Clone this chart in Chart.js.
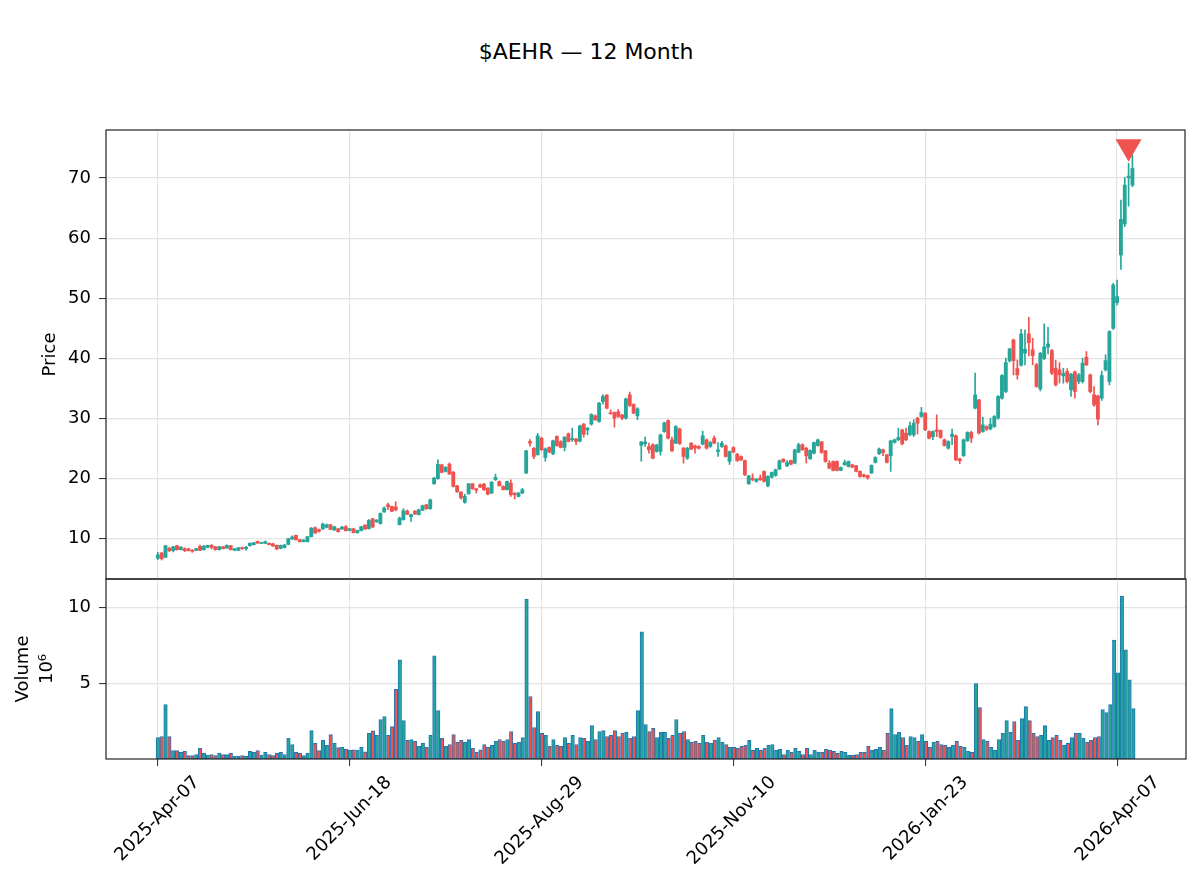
<!DOCTYPE html>
<html lang="en">
<head>
<meta charset="UTF-8">
<title>$AEHR — 12 Month</title>
<script src="https://cdn.jsdelivr.net/npm/chart.js"></script>
<style>
    body {
        margin: 0;
        width: 1200px;
        height: 888px;
        overflow: hidden;
        position: relative;
        background: #fff;
        font-family: 'DejaVu Sans', sans-serif;
    }

    canvas {
        position: absolute;
        left: 0;
        top: 0;
    }

    #title {
        position: absolute;
        left: 0;
        top: 39px;
        width: 1172px;
        text-align: center;
        font-size: 22px;
        line-height: 26px;
        color: #000;
    }
</style>
</head>
<body>
<div id="title">$AEHR — 12 Month</div>
<canvas id="price" width="1200" height="888"></canvas>
<canvas id="volume" width="1200" height="888"></canvas>

<script>
    // daily candles, 2025-Apr-07 .. 2026-Apr-13 (trading days)
    const opens = [
        6.75, 7.62, 6.90, 8.40, 8.01, 8.84, 8.18, 8.34, 8.34, 8.06,
        8.06, 8.73, 8.18, 8.56, 8.90, 8.67, 8.18, 8.67, 8.45, 8.84,
        8.06, 8.06, 8.51, 8.34, 8.84, 9.01, 9.56, 9.23, 9.23, 9.23,
        9.17, 8.90, 8.40, 8.51, 9.06, 9.95, 10.56, 9.84, 9.51, 9.51,
        10.34, 11.83, 11.50, 11.61, 11.89, 12.33, 11.44, 11.67, 11.61, 12.00,
        11.39, 11.67, 11.00, 11.33, 12.28, 11.67, 13.33, 12.83, 12.50, 14.44,
        15.65, 15.38, 15.30, 12.33, 13.16, 14.60, 13.66, 14.60, 14.00, 14.71,
        15.65, 14.99, 19.15, 19.98, 22.30, 21.20, 22.41, 21.08, 18.81, 17.76,
        16.04, 17.48, 19.14, 18.31, 18.98, 19.09, 18.42, 17.59, 19.81, 19.53,
        18.70, 18.15, 19.26, 17.60, 17.04, 17.60, 20.92, 26.18, 25.07, 23.97,
        26.73, 23.52, 25.18, 24.13, 27.01, 26.18, 25.18, 27.45, 26.46, 26.57,
        26.24, 29.06, 28.12, 29.06, 30.45, 29.50, 32.83, 33.88, 30.95, 31.00,
        31.11, 30.61, 30.06, 33.94, 32.33, 30.45, 25.55, 25.80, 25.34, 25.62,
        24.51, 24.51, 27.84, 29.67, 26.45, 25.90, 28.28, 25.07, 23.40, 25.90,
        25.45, 25.34, 25.73, 26.45, 25.34, 26.73, 24.51, 25.34, 25.45, 22.85,
        25.18, 24.07, 23.68, 23.02, 19.14, 20.08, 19.53, 20.08, 21.19, 18.81,
        20.24, 20.52, 21.58, 23.24, 22.13, 23.02, 22.57, 24.40, 25.62, 25.07,
        23.30, 24.24, 25.51, 26.13, 24.63, 22.58, 22.86, 22.86, 21.36, 22.30,
        22.03, 22.30, 22.14, 21.20, 20.64, 20.53, 20.92, 22.69, 24.13, 24.80,
        23.96, 23.80, 26.01, 26.46, 28.12, 27.57, 27.29, 27.29, 30.06, 30.34,
        30.89, 27.84, 26.99, 28.12, 28.01, 26.46, 25.07, 27.01, 27.12, 23.30,
        23.80, 26.29, 27.68, 31.72, 33.10, 27.84, 28.67, 28.28, 28.67, 30.06,
        33.38, 34.49, 39.59, 43.08, 38.31, 38.87, 40.86, 44.07, 41.42, 38.92,
        34.93, 39.97, 41.86, 41.30, 38.37, 38.09, 37.10, 37.81, 34.77, 37.76,
        36.15, 36.15, 40.20, 37.26, 33.93, 33.77, 33.38, 38.09, 36.15, 45.01,
        49.28, 57.20, 62.36, 70.06, 68.84
    ];
    const highs = [
        7.73, 7.73, 8.90, 8.56, 8.75, 8.90, 8.68, 8.50, 8.40, 8.23,
        8.40, 8.95, 8.85, 8.95, 9.06, 8.75, 8.73, 8.73, 9.00, 8.90,
        8.40, 8.56, 8.62, 8.73, 9.30, 9.40, 9.62, 9.40, 9.62, 9.30,
        9.23, 8.95, 8.95, 9.06, 10.06, 10.50, 10.62, 9.90, 9.84, 10.40,
        11.85, 12.00, 11.60, 12.61, 12.45, 12.40, 12.10, 11.75, 12.05, 12.20,
        11.75, 11.72, 11.45, 12.05, 12.33, 13.20, 13.40, 13.20, 14.30, 15.30,
        15.93, 15.45, 16.15, 13.60, 15.00, 14.80, 14.10, 14.70, 14.90, 15.60,
        15.70, 16.60, 20.20, 23.13, 22.40, 22.00, 22.60, 21.20, 18.90, 17.85,
        17.40, 19.20, 19.20, 18.40, 19.15, 19.20, 18.50, 19.50, 20.75, 19.60,
        18.80, 19.60, 19.80, 17.65, 17.70, 18.40, 24.70, 26.50, 25.15, 27.50,
        26.90, 25.10, 25.30, 26.40, 27.10, 26.30, 27.00, 27.60, 28.40, 26.70,
        28.90, 29.20, 28.50, 30.80, 30.60, 32.70, 33.94, 34.00, 31.44, 31.10,
        31.50, 30.70, 33.40, 34.40, 32.45, 31.80, 26.20, 26.90, 25.90, 25.80,
        25.70, 27.40, 29.40, 29.80, 26.90, 28.80, 28.40, 25.20, 25.20, 26.00,
        25.60, 25.50, 27.90, 26.60, 26.20, 27.10, 26.00, 26.20, 25.60, 24.60,
        25.30, 24.20, 23.80, 23.10, 20.55, 20.80, 20.00, 20.60, 21.30, 20.50,
        21.10, 21.60, 23.10, 23.30, 23.00, 23.10, 24.90, 25.90, 25.80, 25.20,
        24.80, 26.10, 26.60, 26.20, 24.70, 23.00, 22.95, 22.95, 21.95, 23.10,
        22.95, 22.40, 22.20, 21.30, 20.75, 20.60, 22.30, 23.65, 25.10, 24.90,
        24.05, 26.40, 26.60, 28.40, 28.20, 28.40, 29.40, 29.80, 30.20, 31.85,
        31.00, 27.95, 27.95, 30.61, 28.10, 26.60, 26.30, 28.23, 27.30, 23.40,
        26.60, 27.80, 27.90, 37.54, 33.20, 30.20, 28.80, 30.06, 30.50, 33.80,
        37.30, 40.03, 41.70, 43.20, 39.75, 44.85, 44.74, 46.85, 43.35, 39.20,
        41.00, 45.74, 45.18, 41.50, 39.70, 39.30, 38.37, 38.30, 37.50, 37.90,
        37.50, 40.03, 41.14, 37.40, 35.32, 33.90, 37.90, 40.60, 44.60, 52.50,
        53.05, 66.35, 70.11, 72.44, 73.83
    ];
    const lows = [
        6.51, 6.46, 6.85, 7.84, 7.79, 8.10, 8.12, 7.85, 7.95, 7.73,
        8.00, 8.00, 8.10, 8.50, 8.34, 8.10, 8.10, 8.30, 8.40, 8.12,
        8.00, 8.00, 8.23, 8.06, 8.78, 8.95, 9.20, 9.17, 9.17, 8.95,
        8.73, 8.20, 8.30, 8.45, 9.00, 9.90, 9.78, 9.45, 9.45, 9.45,
        10.28, 10.90, 11.10, 11.55, 11.80, 11.50, 11.38, 11.10, 11.55, 11.28,
        11.30, 10.95, 10.90, 11.28, 11.55, 11.60, 11.85, 12.70, 12.45, 14.40,
        14.82, 14.50, 14.65, 12.30, 13.10, 14.00, 12.90, 14.05, 13.95, 14.65,
        14.90, 14.90, 19.05, 19.90, 20.95, 21.10, 20.70, 18.60, 17.70, 16.60,
        15.90, 17.40, 18.20, 17.60, 18.50, 18.05, 17.30, 17.50, 19.70, 18.75,
        18.10, 18.10, 17.04, 16.60, 16.95, 17.50, 20.85, 25.40, 23.30, 23.90,
        24.70, 22.90, 24.30, 24.00, 25.40, 25.10, 24.60, 26.10, 26.18, 25.63,
        26.10, 26.90, 27.29, 28.90, 29.70, 29.40, 32.44, 31.60, 30.70, 28.56,
        30.20, 29.80, 29.90, 32.00, 30.80, 29.80, 22.90, 25.35, 24.24, 23.30,
        24.40, 23.90, 27.70, 26.60, 24.50, 25.80, 25.70, 22.57, 23.20, 24.80,
        24.24, 24.90, 25.60, 24.90, 25.20, 25.80, 23.68, 25.20, 23.60, 22.35,
        24.30, 22.90, 23.00, 20.50, 19.05, 19.64, 19.40, 19.70, 19.40, 18.60,
        20.10, 20.40, 21.50, 22.70, 22.00, 22.30, 22.50, 24.30, 24.70, 22.60,
        23.20, 24.10, 25.40, 24.20, 22.70, 21.60, 21.30, 21.30, 21.30, 22.20,
        21.90, 21.80, 21.10, 20.25, 20.25, 19.90, 20.85, 22.60, 24.00, 23.80,
        22.60, 21.20, 25.90, 26.30, 25.60, 26.30, 27.10, 27.00, 27.40, 30.20,
        28.00, 26.60, 26.50, 27.00, 26.70, 25.40, 24.90, 25.63, 23.00, 22.50,
        23.70, 26.20, 26.00, 31.60, 27.40, 27.70, 28.00, 28.10, 28.50, 29.90,
        33.20, 34.30, 39.40, 37.26, 36.54, 38.70, 38.92, 40.42, 38.92, 35.20,
        34.60, 39.80, 40.75, 37.30, 35.40, 35.90, 35.87, 35.90, 33.66, 33.38,
        35.80, 35.90, 38.80, 34.30, 32.00, 28.95, 33.00, 37.90, 35.60, 44.80,
        48.90, 54.82, 61.91, 65.35, 68.56
    ];
    const closes = [
        7.30, 6.68, 8.84, 8.01, 8.67, 8.18, 8.62, 8.01, 8.01, 7.90,
        8.34, 8.06, 8.79, 8.90, 8.56, 8.18, 8.67, 8.34, 8.90, 8.18,
        8.34, 8.51, 8.34, 8.56, 9.23, 9.34, 9.28, 9.34, 9.51, 9.01,
        8.79, 8.28, 8.90, 8.95, 10.00, 10.28, 9.84, 9.51, 9.78, 10.34,
        11.78, 10.95, 11.22, 12.44, 12.33, 11.55, 12.00, 11.17, 11.94, 11.33,
        11.67, 11.00, 11.39, 12.00, 11.61, 13.05, 11.94, 13.10, 14.20, 15.10,
        15.32, 14.55, 14.80, 13.44, 14.66, 14.05, 14.00, 14.10, 14.83, 15.49,
        14.99, 16.49, 20.09, 22.36, 21.03, 21.86, 20.75, 18.70, 17.82, 16.82,
        17.04, 19.14, 18.31, 18.09, 18.59, 18.15, 17.43, 19.42, 20.20, 18.81,
        18.15, 19.53, 17.32, 17.32, 17.60, 18.15, 24.63, 25.90, 23.69, 27.12,
        24.80, 24.96, 24.41, 26.29, 25.46, 25.18, 26.90, 26.18, 26.68, 26.18,
        28.78, 27.40, 28.40, 30.67, 29.78, 32.55, 33.66, 31.72, 30.80, 30.06,
        30.34, 30.06, 33.27, 32.16, 30.89, 31.61, 26.10, 26.10, 24.79, 23.40,
        25.62, 27.28, 29.28, 26.73, 24.62, 28.67, 25.79, 23.68, 25.07, 24.90,
        25.07, 25.07, 27.12, 25.07, 26.01, 25.90, 24.79, 25.90, 23.68, 24.51,
        24.40, 22.96, 23.13, 20.63, 20.47, 19.80, 19.91, 19.80, 19.53, 20.36,
        21.03, 21.47, 22.96, 22.80, 22.68, 22.41, 24.79, 25.62, 24.79, 23.79,
        24.68, 26.01, 26.45, 24.35, 22.86, 21.75, 21.36, 21.36, 21.86, 22.69,
        22.86, 21.92, 21.20, 20.36, 20.36, 20.14, 22.19, 23.52, 24.91, 24.35,
        22.69, 26.29, 26.46, 26.85, 25.79, 26.46, 28.78, 29.23, 29.23, 31.00,
        28.12, 26.73, 27.84, 27.84, 26.85, 25.52, 26.18, 27.40, 23.13, 22.97,
        26.46, 27.68, 26.73, 33.93, 27.60, 28.95, 28.23, 29.06, 30.33, 33.66,
        37.15, 39.31, 41.58, 39.64, 37.26, 44.07, 41.52, 42.63, 40.47, 35.32,
        40.86, 41.91, 42.41, 37.54, 35.60, 37.26, 37.50, 36.15, 37.37, 34.49,
        37.26, 39.20, 38.92, 34.49, 32.27, 29.89, 37.15, 39.64, 44.46, 52.22,
        50.28, 63.13, 68.84, 70.33, 71.61
    ];
    // volume in millions of shares
    const volumes = [
        1.42, 1.49, 3.60, 1.49, 0.55, 0.55, 0.44, 0.50, 0.22, 0.22,
        0.30, 0.70, 0.39, 0.26, 0.30, 0.22, 0.37, 0.30, 0.30, 0.37,
        0.17, 0.17, 0.22, 0.17, 0.50, 0.44, 0.55, 0.26, 0.44, 0.30,
        0.22, 0.37, 0.44, 0.30, 1.36, 0.96, 0.44, 0.37, 0.22, 0.37,
        1.88, 1.03, 0.55, 1.23, 0.90, 1.62, 1.03, 0.75, 0.77, 0.66,
        0.57, 0.61, 0.57, 0.77, 0.48, 1.69, 1.86, 1.56, 2.61, 2.80,
        1.56, 2.15, 4.60, 6.56, 2.54, 1.23, 1.29, 1.16, 0.83, 1.03,
        0.77, 1.56, 6.82, 3.20, 1.36, 0.83, 0.96, 1.62, 1.10, 1.23,
        1.10, 1.29, 0.70, 0.44, 0.61, 0.96, 0.77, 0.90, 1.16, 1.29,
        1.16, 1.29, 1.82, 1.03, 1.10, 1.42, 10.57, 4.12, 2.08, 3.13,
        1.69, 1.56, 0.83, 1.29, 0.90, 0.83, 1.42, 1.03, 1.56, 0.96,
        1.42, 1.36, 1.16, 2.21, 1.29, 1.82, 1.88, 1.49, 1.56, 1.88,
        1.49, 1.69, 1.76, 1.36, 1.49, 3.20, 8.40, 2.28, 1.82, 2.02,
        1.42, 1.76, 1.76, 1.36, 1.56, 2.61, 1.69, 1.82, 1.29, 1.10,
        1.16, 1.03, 1.56, 1.10, 1.03, 1.23, 1.42, 1.10, 0.96, 0.77,
        0.77, 0.70, 0.83, 0.90, 1.23, 0.57, 0.70, 0.57, 0.70, 0.90,
        0.96, 0.57, 0.64, 0.30, 0.57, 0.44, 0.70, 0.50, 0.30, 0.70,
        0.30, 0.57, 0.44, 0.44, 0.64, 0.57, 0.50, 0.37, 0.50, 0.44,
        0.24, 0.24, 0.30, 0.44, 0.44, 0.83, 0.57, 0.64, 0.77, 0.57,
        1.69, 3.33, 1.62, 1.76, 1.42, 0.90, 1.49, 1.42, 1.16, 1.62,
        1.16, 0.77, 1.10, 1.16, 0.96, 0.90, 0.77, 0.90, 1.16, 0.83,
        0.77, 0.50, 0.44, 4.98, 3.40, 1.29, 1.16, 0.77, 0.57, 1.29,
        1.69, 2.54, 1.76, 2.48, 1.23, 2.67, 3.46, 2.54, 1.69, 1.49,
        1.56, 2.21, 1.23, 1.42, 1.56, 1.23, 0.90, 1.03, 1.42, 1.69,
        1.69, 1.36, 1.10, 1.23, 1.42, 1.49, 3.27, 3.07, 3.60, 7.87,
        5.70, 10.77, 7.21, 5.24, 3.33
    ];

    const tickIdx = [0, 50, 100, 150, 200, 250];
    const tickLabels = ['2025-Apr-07', '2025-Jun-18', '2025-Aug-29', '2025-Nov-10', '2026-Jan-23', '2026-Apr-07'];
    const priceTicks = [10, 20, 30, 40, 50, 60, 70];
    const volumeTicks = [5, 10];
    const signalIdx = [253];
    const signalPrice = [75.2];

    const UP = '#26a69a';
    const DOWN = '#ef5350';
    const GRID = '#e4e4e4';
    const FRAME = '#222';
    const X_MIN = -13.5;
    const X_MAX = 267.7;
    const TICK_FONT = { family: 'DejaVu Sans', size: 18 };
    const LABEL_FONT = { family: 'DejaVu Sans', size: 18, lineHeight: 1.3 };

    const candleColor = ctx => closes[ctx.dataIndex] >= opens[ctx.dataIndex] ? UP : DOWN;
    const setTicks = list => scale => { scale.ticks = list.map(v => ({ value: v })); };

    // box round each panel, like the matplotlib frame
    const framePlugin = {
        id: 'frame',
        afterDraw(chart) {
            const { ctx, chartArea: a } = chart;
            ctx.save();
            ctx.strokeStyle = FRAME;
            ctx.lineWidth = 1.2;
            ctx.strokeRect(a.left, a.top, a.right - a.left, a.bottom - a.top);
            ctx.restore();
        }
    };

    Chart.defaults.font.family = 'DejaVu Sans';

    new Chart(document.getElementById('price'), {
        type: 'bar',
        data: {
            datasets: [
                {
                    type: 'line',
                    data: signalIdx.map((x, k) => ({ x: x, y: signalPrice[k] })),
                    showLine: false,
                    pointStyle: 'triangle',
                    pointRotation: 180,
                    pointRadius: 15,
                    pointBackgroundColor: DOWN,
                    pointBorderWidth: 0,
                    order: 0
                },
                {
                    data: opens.map((o, i) => ({ x: i, y: [o, closes[i]] })),
                    backgroundColor: candleColor,
                    barThickness: 3.2,
                    minBarLength: 1,
                    grouped: false,
                    order: 1
                },
                {
                    data: lows.map((l, i) => ({ x: i, y: [l, highs[i]] })),
                    backgroundColor: candleColor,
                    barThickness: 1,
                    grouped: false,
                    order: 2
                }
            ]
        },
        options: {
            responsive: false,
            animation: false,
            devicePixelRatio: 1,
            layout: { padding: { left: 0, right: 14, top: 130, bottom: 309 } },
            plugins: { legend: { display: false }, tooltip: { enabled: false } },
            scales: {
                x: {
                    type: 'linear',
                    min: X_MIN,
                    max: X_MAX,
                    offset: false,
                    afterBuildTicks: setTicks(tickIdx),
                    afterFit: s => { s.height = 0; },
                    ticks: { display: false },
                    border: { display: false },
                    grid: { color: GRID, lineWidth: 1.2, drawTicks: false, offset: false }
                },
                y: {
                    min: 3.3,
                    max: 78,
                    afterBuildTicks: setTicks(priceTicks),
                    afterFit: s => { s.width = 106; },
                    ticks: { font: TICK_FONT, color: '#000', padding: 8 },
                    border: { display: false },
                    grid: { color: GRID, lineWidth: 1.2, tickLength: 7, tickColor: FRAME, tickWidth: 1 },
                    title: { display: true, text: 'Price', font: LABEL_FONT, color: '#000', padding: { top: 38.5, bottom: 0 } }
                }
            }
        },
        plugins: [framePlugin]
    });

    new Chart(document.getElementById('volume'), {
        type: 'bar',
        data: {
            datasets: [{
                data: volumes.map((v, i) => ({ x: i, y: v })),
                backgroundColor: candleColor,
                borderColor: '#1f77b4',
                borderWidth: 1,
                borderSkipped: false,
                barThickness: 3.5,
                grouped: false
            }]
        },
        options: {
            responsive: false,
            animation: false,
            devicePixelRatio: 1,
            layout: { padding: { left: 0, right: 14, top: 579, bottom: 0 } },
            plugins: { legend: { display: false }, tooltip: { enabled: false } },
            scales: {
                x: {
                    type: 'linear',
                    min: X_MIN,
                    max: X_MAX,
                    offset: false,
                    afterBuildTicks: setTicks(tickIdx),
                    afterFit: s => { s.height = 129; },
                    ticks: {
                        autoSkip: false,
                        minRotation: 45,
                        maxRotation: 45,
                        labelOffset: 39,
                        padding: 6,
                        font: TICK_FONT,
                        color: '#000',
                        callback: v => tickLabels[tickIdx.indexOf(v)]
                    },
                    border: { display: false },
                    grid: { color: GRID, lineWidth: 1.2, tickLength: 7, tickColor: FRAME, tickWidth: 1, offset: false }
                },
                y: {
                    min: 0,
                    max: 11.9,
                    afterBuildTicks: setTicks(volumeTicks),
                    afterFit: s => { s.width = 106; },
                    ticks: { font: TICK_FONT, color: '#000', padding: 8 },
                    border: { display: false },
                    grid: { color: GRID, lineWidth: 1.2, tickLength: 7, tickColor: FRAME, tickWidth: 1 },
                    title: { display: true, text: ['Volume', '10⁶'], font: LABEL_FONT, color: '#000', padding: { top: 12, bottom: 0 } }
                }
            }
        },
        plugins: [framePlugin]
    });
</script>
</body>
</html>
